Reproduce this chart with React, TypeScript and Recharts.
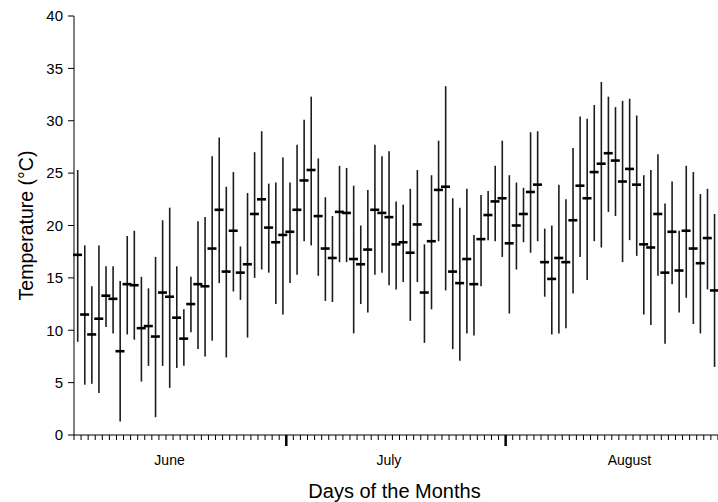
import { ComposedChart, Bar, Line, XAxis, YAxis } from 'recharts';

// daily temperature, June 1 .. August 30 (Aug 31 falls off the picture)
const months = ['June', 'July', 'August'];
const monthLengths = [30, 31, 31];
const monthLabelDays = [14, 45, 79];
const yTicks = [0, 5, 10, 15, 20, 25, 30, 35, 40];

const highs = [
  25.3, 18.1, 14.2, 18.1, 16.1, 16.1, 14.7, 19.0, 19.5, 15.1, 14.0, 17.0, 20.5, 21.7, 16.1,
  12.0, 15.1, 20.4, 20.8, 26.6, 28.4, 23.7, 25.1, 18.0, 23.1, 27.0, 29.0, 24.0, 24.1, 26.5,
  24.1, 27.7, 30.1, 32.3, 26.4, 22.7, 20.9, 25.7, 25.5, 23.8, 20.0, 23.4, 27.7, 26.6, 27.1,
  22.3, 22.0, 23.5, 25.3, 18.2, 24.8, 28.1, 33.3, 22.6, 21.7, 23.5, 19.1, 22.9, 23.3, 25.7, 28.1,
  24.8, 24.1, 23.6, 28.9, 29.0, 19.7, 20.0, 23.9, 22.5, 27.4, 30.4, 30.2, 31.5, 33.7, 32.3,
  31.3, 31.9, 32.1, 30.5, 24.8, 25.3, 26.8, 22.1, 24.2, 19.5, 25.7, 25.1, 23.0, 23.5, 21.1,
];
const lows = [
  8.9, 4.8, 4.9, 4.0, 10.3, 9.7, 1.3, 9.6, 9.1, 5.1, 6.6, 1.7, 6.6, 4.5, 6.4,
  6.6, 9.8, 8.2, 7.5, 9.0, 14.5, 7.4, 13.7, 12.9, 9.3, 15.0, 15.8, 15.5, 12.5, 11.5,
  14.5, 15.3, 18.5, 18.1, 15.2, 12.8, 12.7, 16.5, 16.5, 9.7, 12.5, 11.7, 15.3, 15.5, 14.3,
  13.9, 14.6, 10.9, 14.6, 8.8, 12.0, 18.5, 13.8, 8.2, 7.1, 9.7, 9.5, 14.2, 18.6, 18.5, 17.0,
  11.6, 15.8, 18.4, 17.4, 18.5, 13.2, 9.6, 9.7, 10.2, 13.5, 17.0, 14.8, 18.5, 17.9, 21.3,
  20.9, 16.5, 18.6, 17.1, 11.5, 10.5, 15.2, 8.7, 14.4, 11.7, 13.1, 10.6, 9.7, 13.9, 6.5,
];
const means = [
  17.2, 11.5, 9.6, 11.1, 13.3, 13.0, 8.0, 14.4, 14.3, 10.2, 10.4, 9.4, 13.6, 13.2, 11.2,
  9.2, 12.5, 14.4, 14.2, 17.8, 21.5, 15.6, 19.5, 15.5, 16.3, 21.1, 22.5, 19.8, 18.4, 19.1,
  19.4, 21.5, 24.3, 25.3, 20.9, 17.8, 16.9, 21.3, 21.2, 16.8, 16.3, 17.7, 21.5, 21.2, 20.8,
  18.2, 18.4, 17.4, 20.1, 13.6, 18.5, 23.4, 23.7, 15.6, 14.5, 16.8, 14.4, 18.7, 21.0, 22.3, 22.6,
  18.3, 20.0, 21.1, 23.2, 23.9, 16.5, 14.9, 16.9, 16.5, 20.5, 23.8, 22.6, 25.1, 25.9, 26.9,
  26.2, 24.2, 25.4, 23.9, 18.2, 17.9, 21.1, 15.5, 19.4, 15.7, 19.5, 17.8, 16.4, 18.8, 13.8,
];

const totalDays = monthLengths.reduce((a, b) => a + b, 0);
const monthStarts = monthLengths.map((_, i) => monthLengths.slice(0, i).reduce((a, b) => a + b, 0) + 1);

const data = Array.from({ length: totalDays }, (_, i) => ({
  day: i + 1,
  range: i < highs.length ? [lows[i], highs[i]] : null,
  mean: i < means.length ? means[i] : null,
}));

const W = 730;
const H = 502;
const M = { top: 16, right: 5, left: 14, bottom: 0 };
const Y_W = 60;
const BAND = (W - M.left - M.right - Y_W) / totalDays;
const FONT = '"Liberation Sans", Arial, Helvetica, sans-serif';

function DayTick(props: any) {
  const { x, y, payload } = props;
  const major = monthStarts.includes(payload.value) && payload.value !== 1;
  const bx = x - BAND / 2;
  return (
    <line
      x1={bx}
      x2={bx}
      y1={y}
      y2={y + (major ? 11 : 5)}
      stroke="#000"
      strokeWidth={major ? 2.5 : 1}
    />
  );
}

function RangeLine(props: any) {
  const { x, y, width, height } = props;
  if (x == null || y == null || !height) return null;
  const cx = x + width / 2;
  const top = Math.min(y, y + height);
  return <line x1={cx} x2={cx} y1={top} y2={top + Math.abs(height)} stroke="#1c1c1c" strokeWidth={1.6} />;
}

function MeanDash(props: any) {
  const { cx, cy, value } = props;
  if (value == null || cx == null || cy == null) return null;
  return <line x1={cx - 4.5} x2={cx + 4.5} y1={cy} y2={cy} stroke="#000" strokeWidth={2.6} />;
}

export default function App() {
  return (
    <div style={{ position: 'fixed', left: 0, top: 0, width: 718, height: 502, overflow: 'hidden', background: '#fff' }}>
      <ComposedChart width={W} height={H} data={data} margin={M} style={{ fontFamily: FONT }}>
        <XAxis
          xAxisId="days"
          dataKey="day"
          type="category"
          interval={0}
          height={12}
          tickLine={false}
          tickSize={0}
          tickMargin={0}
          tick={<DayTick />}
          axisLine={{ stroke: '#000', strokeWidth: 1 }}
        />
        <XAxis
          xAxisId="months"
          dataKey="day"
          type="category"
          ticks={monthLabelDays}
          interval={0}
          height={55}
          axisLine={false}
          tickLine={false}
          tickSize={0}
          tickMargin={8}
          tickFormatter={(v) => months[monthLabelDays.indexOf(v)] ?? ''}
          tick={{ fontSize: 14, fill: '#000', fontFamily: FONT }}
          label={{
            value: 'Days of the Months',
            position: 'insideBottom',
            offset: 4,
            dx: -5,
            style: { fontSize: 20, fill: '#000', fontFamily: FONT },
          }}
        />
        <YAxis
          domain={[0, 40]}
          ticks={yTicks}
          width={Y_W}
          tickSize={6}
          tickMargin={5}
          tick={{ fontSize: 15, fill: '#000', fontFamily: FONT }}
          tickLine={{ stroke: '#000' }}
          axisLine={{ stroke: '#000', strokeWidth: 1 }}
          label={{
            value: 'Temperature (°C)',
            angle: -90,
            position: 'insideLeft',
            offset: 12,
            style: { fontSize: 19.5, fill: '#000', fontFamily: FONT, textAnchor: 'middle' },
          }}
        />
        <Bar xAxisId="days" dataKey="range" shape={<RangeLine />} isAnimationActive={false} />
        <Line
          xAxisId="days"
          dataKey="mean"
          stroke="none"
          dot={<MeanDash />}
          activeDot={false}
          isAnimationActive={false}
        />
      </ComposedChart>
    </div>
  );
}
